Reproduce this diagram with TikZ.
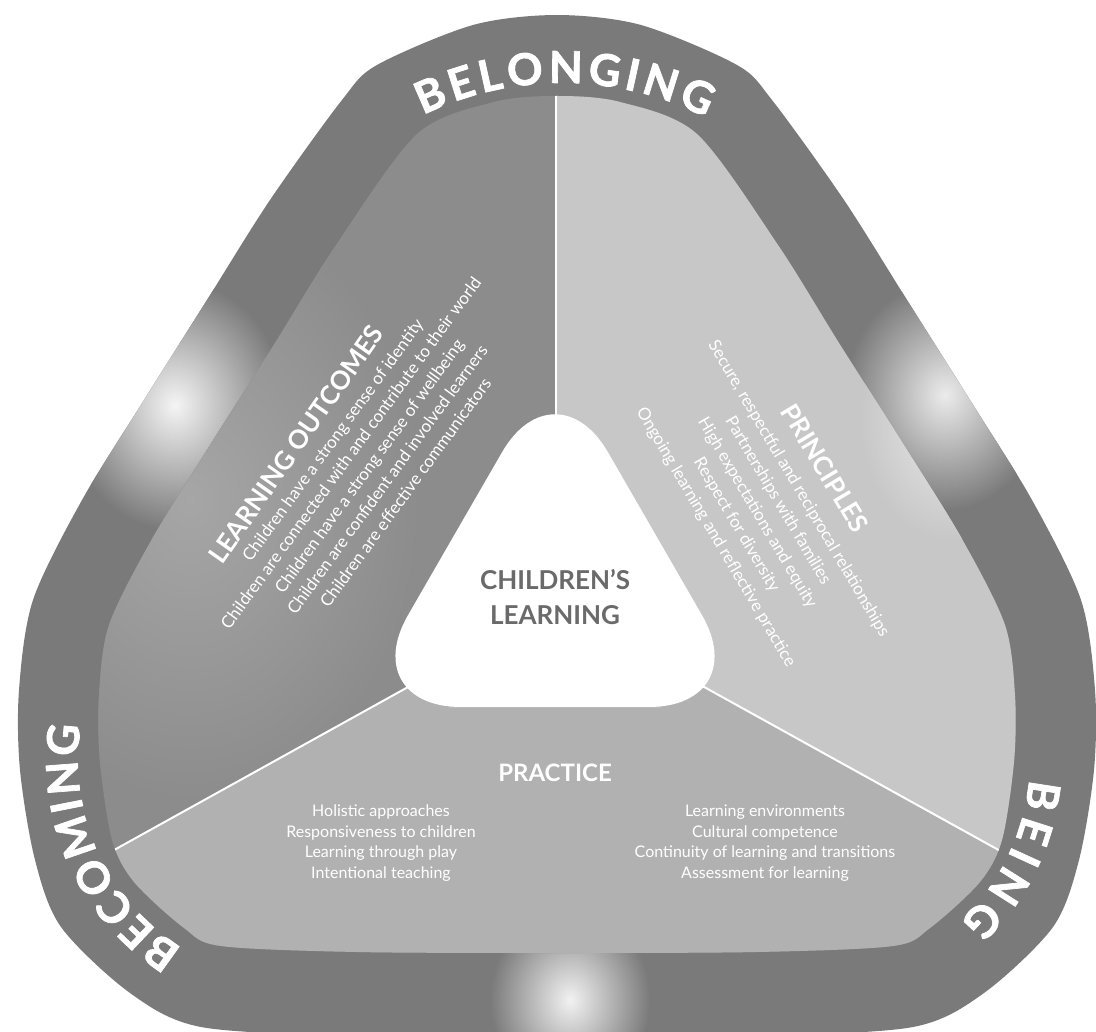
\documentclass[tikz,border=0pt]{standalone}
\usepackage{fontspec}
\setmainfont{Lato}
\newfontfamily\heavyfont[BoldFeatures={FakeBold=1.6}]{Lato}
\usetikzlibrary{decorations.text}

\definecolor{bandgray}{HTML}{7A7A7A}
\definecolor{outcomegray}{HTML}{8C8C8C}
\definecolor{outcomelight}{HTML}{A6A6A6}
\definecolor{principlegray}{HTML}{C7C7C7}
\definecolor{practicegray}{HTML}{B1B1B1}
\definecolor{hubtext}{HTML}{6A6A6A}

% outline of the ring and of the field inside it (picture coordinates, y downwards)
\newcommand{\outerring}{plot[smooth cycle, tension=0.5] coordinates {(557,15) (641,25) (737,65) (772,100) (844,200) (907,300) (970,400) (1032,500) (1081,600) (1095,690) (1094,770) (1079,860) (1053,927) (984,993) (913,1027) (757,1036) (557,1038) (357,1036) (201,1027) (130,993) (61,927) (35,860) (20,770) (19,690) (33,600) (82,500) (144,400) (207,300) (270,200) (342,100) (377,65) (473,25)}}
\newcommand{\innerfield}{plot[smooth cycle, tension=0.5] coordinates {(557,96) (620,102) (697,134) (778,245) (839,343) (902,442) (962,539) (1005,625) (1015,696) (1014,762) (1002,840) (980,882) (930,928) (893,946) (757,952) (557,953) (357,952) (221,946) (184,928) (134,882) (112,840) (100,762) (99,696) (109,625) (152,539) (212,442) (275,343) (336,245) (417,134) (494,102)}}
\newcommand{\ringfont}{\fontsize{44}{44}\selectfont\heavyfont\bfseries}

\begin{document}
\begin{tikzpicture}[x=1pt, y=-1pt]
  \tikzset{
    heading/.style={text=white, inner sep=0pt, font=\fontsize{26}{30}\selectfont\bfseries},
    itemlist/.style={text=white, align=center, inner sep=0pt, font=\fontsize{17}{22.5}\selectfont},
    hubtitle/.style={text=hubtext, align=center, inner sep=0pt, font=\fontsize{26}{35}\selectfont\bfseries},
    divider/.style={draw=white, line width=2pt},
    ringword/.style={decorate, decoration={text along path, text color=white, text align=fit to path, text={|\ringfont|#1}}}
  }
  \useasboundingbox (0,0) rectangle (1096,1032);
  \fill[white] (0,0) rectangle (1096,1032);
  \clip (0,0) rectangle (1096,1032);

  \coordinate (hub) at (556,605);
  \coordinate (top-end) at (556,60);
  \coordinate (left-end) at (60,880);
  \coordinate (right-end) at (1060,884);

  % ring
  \fill[bandgray] \outerring;
  \begin{scope}[even odd rule]
    \clip \outerring \innerfield;
    \shade[inner color=white!92!bandgray, outer color=bandgray] (175,405) ellipse[x radius=110, y radius=125];
    \shade[inner color=white!85!bandgray, outer color=bandgray] (945,395) ellipse[x radius=100, y radius=115];
    \shade[inner color=white!90!bandgray, outer color=bandgray] (570,1000) ellipse[x radius=80, y radius=95];
  \end{scope}

  % the three fields
  \begin{scope}
    \clip \innerfield;
    \fill[outcomegray] (0,0) rectangle (1096,1032);
    \shade[inner color=outcomelight, outer color=outcomegray] (190,500) ellipse[x radius=230, y radius=300];
    \fill[principlegray] (hub) -- (556,0) -- (1096,0) -- (1096,904) -- cycle;
    \shade[inner color=white!60!principlegray, outer color=principlegray] (950,420) ellipse[x radius=90, y radius=120];
    \fill[practicegray] (hub) -- (1096,904) -- (1096,1032) -- (0,1032) -- (0,913) -- cycle;
    \draw[divider] (hub) -- (top-end);
    \draw[divider] (hub) -- (left-end);
    \draw[divider] (hub) -- (right-end);
  \end{scope}

  % centre
  \path[fill=white, rounded corners=106pt] (555,707) -- (755,707) -- (555,360.5) -- (355,707) -- cycle;
  \node[hubtitle] (hub-title) at (555,597) {CHILDREN’S\\LEARNING};

  % words on the ring
  \path[ringword=BELONGING] (562,400) ++(-116:317) arc[start angle=-116, end angle=-63, radius=317];
  \path[ringword=BECOMING] (300,760) ++(122:222) arc[start angle=122, end angle=189, radius=222];
  \path[ringword=BEING] (810,760) ++(5:220) arc[start angle=5, end angle=47, radius=220];

  % learning outcomes
  \node[heading, rotate=55] (outcomes-title) at (296,444) {LEARNING OUTCOMES};
  \node[itemlist, rotate=54] (outcomes-list) at (369,466) {Children have a strong sense of identity\\Children are connected with and contribute to their world\\Children have a strong sense of wellbeing\\Children are confident and involved learners\\Children are effective communicators};

  % principles
  \node[heading, rotate=-59] (principles-title) at (825,468) {PRINCIPLES};
  \node[itemlist, rotate=-59.5, font=\fontsize{17}{24}\selectfont] (principles-list) at (757,513) {Secure, respectful and reciprocal relationships\\Partnerships with families\\High expectations and equity\\Respect for diversity\\Ongoing learning and reflective practice};

  % practice
  \node[heading, font=\fontsize{24}{28}\selectfont\bfseries] (practice-title) at (555,773) {PRACTICE};
  \node[itemlist, font=\fontsize{16}{20.7}\selectfont] (practice-left) at (381,843) {Holistic approaches\\Responsiveness to children\\Learning through play\\Intentional teaching};
  \node[itemlist, font=\fontsize{16}{20.7}\selectfont] (practice-right) at (765,843) {Learning environments\\Cultural competence\\Continuity of learning and transitions\\Assessment for learning};
\end{tikzpicture}
\end{document}
